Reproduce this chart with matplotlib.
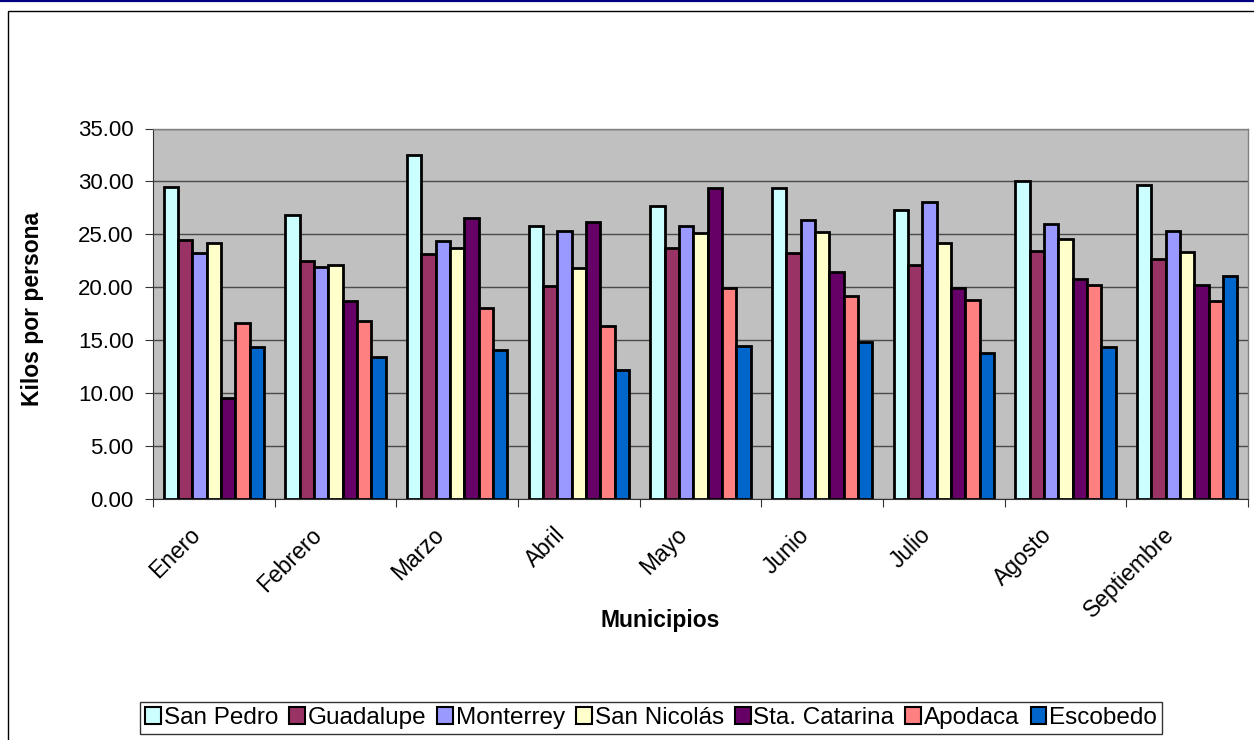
import numpy as np
import matplotlib
matplotlib.use("Agg")
import matplotlib.pyplot as plt
from matplotlib.patches import Rectangle
from matplotlib.lines import Line2D
from matplotlib.transforms import ScaledTranslation

plt.rcParams['font.family'] = ['Liberation Sans', 'DejaVu Sans']

months = ["Enero", "Febrero", "Marzo", "Abril", "Mayo", "Junio", "Julio",
          "Agosto", "Septiembre"]
municipios = ["San Pedro", "Guadalupe", "Monterrey", "San Nicolás",
              "Sta. Catarina", "Apodaca", "Escobedo"]

san_pedro = [29.5, 26.8, 32.5, 25.8, 27.7, 29.4, 27.3, 30.0, 29.65]
guadalupe = [24.5, 22.5, 23.1, 20.1, 23.7, 23.2, 22.1, 23.4, 22.7]
monterrey = [23.2, 21.9, 24.4, 25.3, 25.8, 26.4, 28.1, 26.0, 25.35]
san_nicolas = [24.2, 22.1, 23.7, 21.8, 25.1, 25.2, 24.2, 24.6, 23.3]
sta_catarina = [9.5, 18.7, 26.5, 26.2, 29.4, 21.4, 19.9, 20.8, 20.2]
apodaca = [16.6, 16.8, 18.0, 16.3, 19.9, 19.2, 18.8, 20.2, 18.7]
escobedo = [14.4, 13.4, 14.1, 12.2, 14.5, 14.8, 13.8, 14.4, 21.1]

series = [san_pedro, guadalupe, monterrey, san_nicolas, sta_catarina,
          apodaca, escobedo]
colors = ["#CCFFFF", "#993366", "#9999FF", "#FFFFCC", "#660066",
          "#FF8080", "#0066CC"]

W, H = 1254, 740
fig = plt.figure(figsize=(W / 100, H / 100), dpi=100)
fig.patch.set_facecolor("white")

# chart frame and top rule
fig.add_artist(Rectangle((8 / W, -20 / H), 1.2, (H - 11 + 20) / H,
                         transform=fig.transFigure, fill=False,
                         edgecolor="black", linewidth=1.0))
fig.add_artist(Line2D([0, 1], [1 - 1.2 / H, 1 - 1.2 / H],
                      transform=fig.transFigure, color="#000080",
                      linewidth=1.6))

left, right, top, bottom = 153, 1248, 128.5, 499
ax = fig.add_axes([left / W, 1 - bottom / H, (right - left) / W,
                   (bottom - top) / H])
ax.set_facecolor("#C0C0C0")

n = len(series)
bw = 1 / 8.5
x = np.arange(len(months))
handles = []
for i, (vals, c) in enumerate(zip(series, colors)):
    b = ax.bar(x + (i - (n - 1) / 2) * bw, vals, width=bw, color=c,
               edgecolor="black", linewidth=2.0, zorder=3,
               label=municipios[i])
    handles.append(b)

ax.set_xlim(-0.5, len(months) - 0.5)
ax.set_ylim(0, 35)
ax.set_yticks(np.arange(0, 35.1, 5))
ax.set_yticklabels([f"{v:.2f}" for v in np.arange(0, 35.1, 5)])
ax.yaxis.grid(True, color="#4a4a4a", linewidth=1.0, zorder=0)
ax.set_axisbelow(True)

# category boundaries carry the ticks, labels sit at group centres
ax.set_xticks(np.arange(-0.5, len(months), 1.0))
ax.set_xticklabels([])
ax.set_xticks(x, minor=True)
ax.set_xticklabels(months, minor=True, rotation=45, ha="right",
                   rotation_mode="anchor", fontsize=16.5)
ax.tick_params(axis="x", which="minor", length=0, pad=16)
ax.tick_params(axis="x", which="major", direction="out", length=6,
               color="#333333")
ax.tick_params(axis="y", direction="out", length=6, pad=8, labelsize=16,
               color="#333333")
shift = ScaledTranslation(-25 / 100, -2 / 100, fig.dpi_scale_trans)
for lbl in ax.get_xticklabels(minor=True):
    lbl.set_transform(lbl.get_transform() + shift)

for s in ["top", "right"]:
    ax.spines[s].set_color("#808080")
    ax.spines[s].set_linewidth(1.0)
ax.spines["left"].set_color("#333333")
ax.spines["bottom"].set_color("#333333")

fig.text(33 / W, 1 - 309 / H, "Kilos por persona", rotation=90,
         ha="center", va="center", fontsize=16.5, fontweight="bold")
fig.text(660 / W, 1 - 621 / H, "Municipios", ha="center", va="center",
         fontsize=16.5, fontweight="bold")

leg = fig.legend(handles=handles, labels=municipios, ncol=7,
                 loc="center", bbox_to_anchor=(651 / W, 1 - 718 / H),
                 fontsize=17.5, frameon=True, fancybox=False,
                 edgecolor="black", handlelength=0.65, handleheight=0.65,
                 handletextpad=0.12, columnspacing=0.45, borderpad=0.2,
                 borderaxespad=0)
leg.get_frame().set_linewidth(1.0)
for p in leg.get_patches():
    p.set_linewidth(1.5)

fig.savefig("out.png", dpi=100, facecolor="white")
